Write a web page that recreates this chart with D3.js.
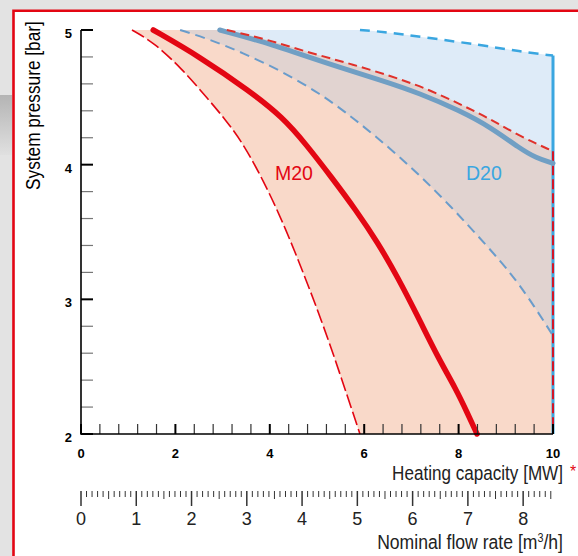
<!DOCTYPE html>
<html lang="en">
  <head>
    <meta charset="utf-8">
    <title>System pressure vs heating capacity</title>
    <script src="https://d3js.org/d3.v7.min.js"></script>
    <style>
      html, body { margin: 0; padding: 0; background: #e3e3e3; }
      svg { display: block; }
      text { font-family: 'Liberation Sans', Arial, sans-serif; }
      .bold { font-weight: bold; }
    </style>
  </head>
  <body>
    <svg></svg>
    <script>
    // tick labels
    const capLabels = [0, 2, 4, 6, 8, 10]
    const pressureLabels = [2, 3, 4, 5]
    const flowLabels = [0, 1, 2, 3, 4, 5, 6, 7, 8]

    // curves: [heating capacity MW, pressure bar]
    const m20Min = [[1.08, 5.00], [1.53, 4.91], [2.12, 4.72], [2.71, 4.48], [3.07, 4.33], [3.45, 4.15],
      [3.94, 3.83], [4.34, 3.52], [4.66, 3.24], [4.96, 2.97], [5.28, 2.66], [5.53, 2.40], [5.74, 2.18], [5.91, 2.00]]
    const m20Nom = [[1.53, 5.00], [2.52, 4.80], [3.56, 4.55], [4.28, 4.35], [4.77, 4.15], [5.30, 3.91],
      [5.83, 3.66], [6.29, 3.42], [6.70, 3.17], [7.14, 2.87], [7.56, 2.57], [7.95, 2.33], [8.18, 2.16], [8.39, 2.00]]
    const m20Max = [[3.09, 5.00], [3.94, 4.93], [4.85, 4.83], [5.70, 4.75], [6.55, 4.66], [7.29, 4.57],
      [8.03, 4.45], [8.67, 4.34], [9.30, 4.21], [10.0, 4.10]]
    const d20Min = [[2.10, 5.00], [2.73, 4.93], [3.43, 4.83], [4.22, 4.70], [5.06, 4.53], [5.76, 4.35],
      [6.76, 4.06], [7.71, 3.74], [8.67, 3.37], [9.09, 3.20], [9.51, 3.00], [10.0, 2.73]]
    const d20Nom = [[2.94, 5.00], [3.79, 4.92], [4.64, 4.82], [5.49, 4.72], [6.34, 4.63], [7.18, 4.53],
      [8.03, 4.40], [8.67, 4.28], [9.30, 4.12], [9.64, 4.05], [10.0, 4.01]]
    const d20Max = [[5.91, 5.00], [6.33, 4.99], [7.39, 4.94], [8.45, 4.89], [9.30, 4.84], [10.0, 4.81]]

    const W = 578, H = 556
    const red = '#e30613'
    const blue = '#3aa6e0'

    const svg = d3.select('svg')
      .attr('width', W)
      .attr('height', H)
    const defs = svg.append('defs')

    // panel
    const shade = defs.append('linearGradient')
      .attr('id', 'shade')
      .attr('x1', 0).attr('y1', 0).attr('x2', 0).attr('y2', 1)
    shade.append('stop').attr('offset', 0).attr('stop-color', '#b4b4b4')
    shade.append('stop').attr('offset', 1).attr('stop-color', '#e0e0e0')
    svg.append('rect').attr('x', 0).attr('y', 95).attr('width', 12).attr('height', 60).attr('fill', 'url(#shade)')
    svg.append('rect').attr('x', 13).attr('y', 10).attr('width', W).attr('height', H).attr('fill', '#fff')
    svg.append('path')
      .attr('d', `M13.5,${H}V10.8H${W}`)
      .attr('fill', 'none')
      .attr('stroke', red)
      .attr('stroke-width', 2.6)

    const x = d3.scaleLinear().domain([0, 10]).range([81, 553])
    const y = d3.scaleLinear().domain([2, 5]).range([434, 30])
    const flow = d3.scaleLinear().domain([0, 8.54]).range([81, 553])

    const line = d3.line()
      .x(d => x(d[0]))
      .y(d => y(d[1]))
      .curve(d3.curveBasis)

    const join = (a, b) => a + b.replace(/^M/, 'L')

    // regions
    const m20Area = join(join(line(m20Min), `M${x(10)},${y(2)}`), line(m20Max.slice().reverse())) + 'Z'
    const d20Area = join(join(line(d20Min), `M${x(10)},${y(2.73)}`), line(d20Max.slice().reverse())) + 'Z'

    defs.append('clipPath').attr('id', 'm20clip')
      .append('path').attr('d', m20Area)

    const g = svg.append('g')
    g.append('path').attr('d', d20Area).attr('fill', '#deebf8')
    g.append('path').attr('d', m20Area).attr('fill', '#f9d9c9')
    g.append('path').attr('d', d20Area).attr('fill', '#e1d3d0').attr('clip-path', 'url(#m20clip)')

    // right edge
    g.append('line')
      .attr('x1', x(10)).attr('x2', x(10))
      .attr('y1', y(4.81)).attr('y2', y(2))
      .attr('stroke', blue).attr('stroke-width', 3)
    g.append('line')
      .attr('x1', x(10)).attr('x2', x(10))
      .attr('y1', y(4.10)).attr('y2', y(2))
      .attr('stroke', red).attr('stroke-width', 1.8)
      .attr('stroke-dasharray', '10,4')

    const curves = [
      { data: m20Min, color: red, width: 1.6, dash: '14,4' },
      { data: d20Min, color: '#6a9ccb', width: 2, dash: '10,6' },
      { data: d20Max, color: blue, width: 2.5, dash: '10,7' },
      { data: d20Nom, color: '#709fc4', width: 5, dash: null },
      { data: m20Max, color: '#e0302a', width: 2, dash: '9,5' },
      { data: m20Nom, color: red, width: 5.5, dash: null }
    ]
    g.selectAll('path.curve')
      .data(curves)
      .join('path')
        .attr('class', 'curve')
        .attr('d', d => line(d.data))
        .attr('fill', 'none')
        .attr('stroke', d => d.color)
        .attr('stroke-width', d => d.width)
        .attr('stroke-dasharray', d => d.dash)
        .attr('stroke-linecap', d => d.dash ? 'butt' : 'round')

    g.append('text')
      .attr('x', 275).attr('y', 180)
      .attr('fill', red)
      .attr('font-size', 19.5).text('M20')
    g.append('text')
      .attr('x', 466).attr('y', 180)
      .attr('fill', blue)
      .attr('font-size', 19.5).text('D20')

    // axes
    const axes = svg.append('g')
    const isMajor = v => Math.abs(v - Math.round(v)) < 0.01
    axes.selectAll('line.ytick')
      .data(d3.range(2, 5.01, 0.2))
      .join('line')
        .attr('class', 'ytick')
        .attr('x1', x(0)).attr('x2', x(0) + 12)
        .attr('y1', d => y(d)).attr('y2', d => y(d))
        .attr('stroke', d => isMajor(d) ? '#000' : '#777')
        .attr('stroke-width', d => isMajor(d) ? 2 : 1.2)
    axes.selectAll('line.xtick')
      .data(d3.range(0, 10.01, 0.4))
      .join('line')
        .attr('class', 'xtick')
        .attr('x1', d => x(d)).attr('x2', d => x(d))
        .attr('y1', y(2) - 10).attr('y2', y(2))
        .attr('stroke', d => isMajor(d / 2) ? '#000' : '#333')
        .attr('stroke-width', d => isMajor(d / 2) ? 2 : 1.2)
    axes.append('path')
      .attr('d', `M${x(0)},${y(5)}V${y(2)}H${x(10)}`)
      .attr('fill', 'none')
      .attr('stroke', '#000')
      .attr('stroke-width', 1.6)

    axes.selectAll('text.ylab')
      .data(pressureLabels)
      .join('text')
        .attr('class', 'ylab bold')
        .attr('x', 72).attr('y', d => y(d) + 8)
        .attr('text-anchor', 'end')
        .attr('font-size', 13)
        .text(d => d)
    axes.selectAll('text.xlab')
      .data(capLabels)
      .join('text')
        .attr('class', 'xlab bold')
        .attr('x', d => x(d)).attr('y', 458)
        .attr('text-anchor', 'middle')
        .attr('font-size', 13)
        .text(d => d)

    // condensed titles: squeeze regular glyphs to the measured width
    function squeeze(text, place, width) {
      const k = width / text.node().getComputedTextLength()
      text.attr('transform', `${place} scale(${k},1)`)
    }

    const yTitle = axes.append('text')
      .attr('font-size', 19.5)
      .text('System pressure [bar]')
    squeeze(yTitle, 'translate(40,190) rotate(-90)', 169)

    const xTitle = axes.append('text')
      .attr('text-anchor', 'end')
      .attr('font-size', 19.5)
      .attr('fill', '#222')
      .text('Heating capacity [MW]')
    squeeze(xTitle, 'translate(563,480)', 171)

    axes.append('text')
      .attr('x', 570).attr('y', 477)
      .attr('fill', red).attr('font-size', 16)
      .text('*')

    // flow rate ruler
    const ruler = svg.append('g')
    ruler.selectAll('line')
      .data(d3.range(0, 86).map(i => i / 10))
      .join('line')
        .attr('x1', d => flow(d)).attr('x2', d => flow(d))
        .attr('y1', 491)
        .attr('y2', (d, i) => i % 10 === 0 ? 506 : i % 5 === 0 ? 499 : 497)
        .attr('stroke', '#333')
        .attr('stroke-width', (d, i) => i % 10 === 0 ? 1.5 : 1)
    ruler.selectAll('text')
      .data(flowLabels)
      .join('text')
        .attr('x', d => flow(d)).attr('y', 525)
        .attr('text-anchor', 'middle')
        .attr('font-size', 18)
        .attr('fill', '#222')
        .text(d => d)

    const fTitle = ruler.append('text')
      .attr('text-anchor', 'end')
      .attr('font-size', 19.5)
      .attr('fill', '#222')
    fTitle.append('tspan').text('Nominal flow rate [m')
    fTitle.append('tspan').attr('dy', -7).attr('font-size', 12).text('3')
    fTitle.append('tspan').attr('dy', 7).text('/h]')
    squeeze(fTitle, 'translate(563,549)', 186)
    </script>
  </body>
</html>
